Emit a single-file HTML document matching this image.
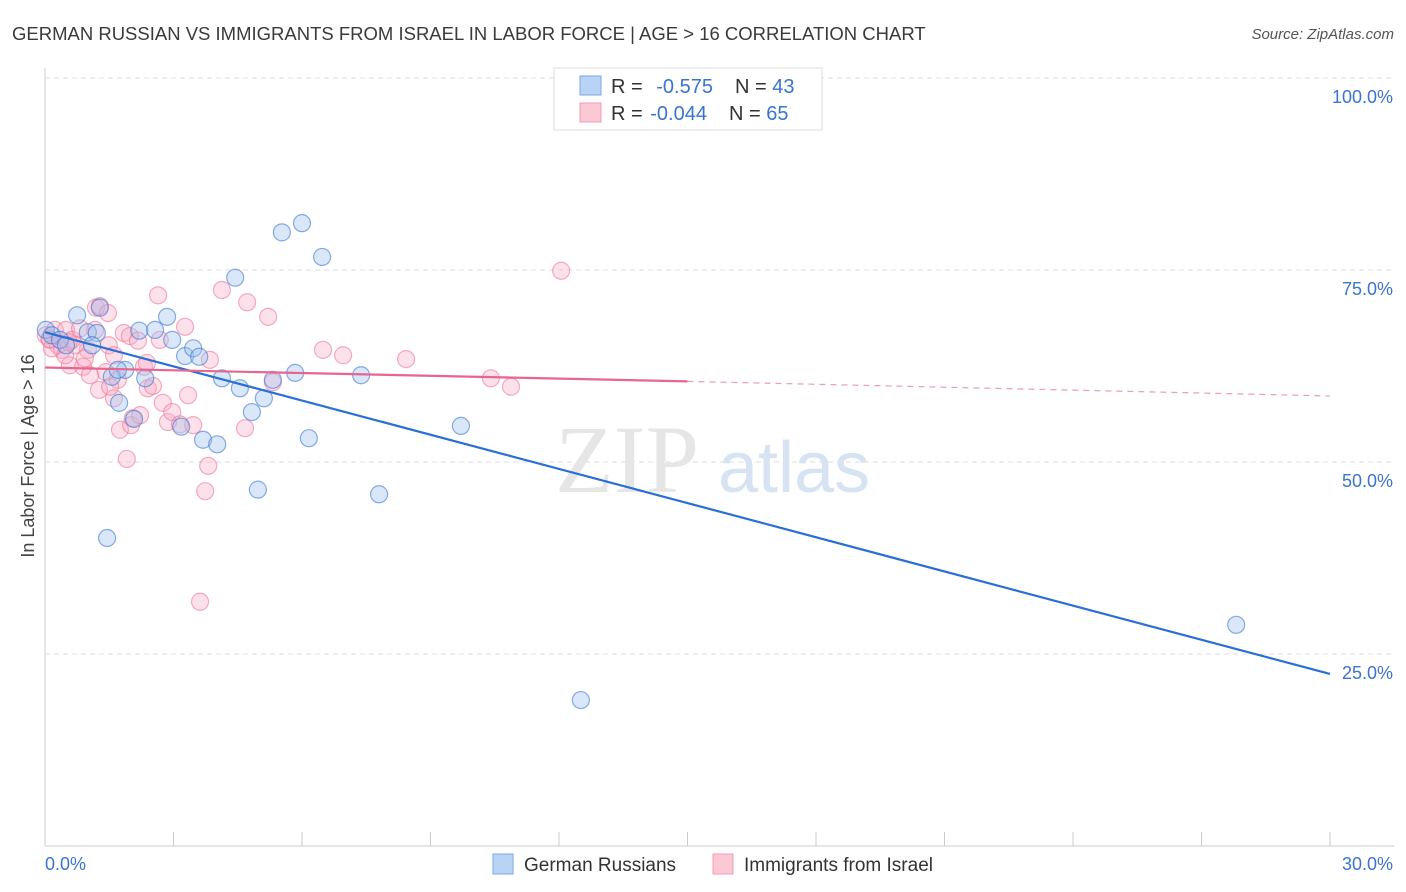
<!DOCTYPE html>
<html><head><meta charset="utf-8"><style>
body{margin:0;background:#fff;font-family:"Liberation Sans",sans-serif;}
svg{display:block}
</style></head><body>
<svg id="chart" width="1406" height="892">
<text x="12" y="40" font-size="18.5" fill="#3a3a3a">GERMAN RUSSIAN VS IMMIGRANTS FROM ISRAEL IN LABOR FORCE | AGE &gt; 16 CORRELATION CHART</text>
<text x="1394" y="39" font-size="15" fill="#555" font-style="italic" text-anchor="end">Source: ZipAtlas.com</text>
<text x="34" y="456" font-size="18" fill="#444" text-anchor="middle" transform="rotate(-90 34 456)">In Labor Force | Age &gt; 16</text>
<g id="grid"></g>
<g><text x="555" y="492" font-size="96" fill="#e6e6e6" font-family="Liberation Serif,serif">ZIP</text><text x="718" y="492" font-size="72" fill="#d6e3f3">atlas</text></g>
<g id="marks"></g>
<g id="lines"></g>
<g>
<rect x="554" y="68" width="268" height="62" fill="#fff" stroke="#ddd"/>
<rect x="580" y="76" width="21" height="19" fill="#b9d3f5" stroke="#7aa8e8"/>
<rect x="580" y="103" width="21" height="19" fill="#fbc8d6" stroke="#f09ab2"/>
<text x="611" y="93" font-size="20" fill="#333">R = <tspan fill="#3a74d0" dx="8">-0.575</tspan><tspan fill="#333" dx="22">N = </tspan><tspan fill="#3a74d0">43</tspan></text>
<text x="611" y="120" font-size="20" fill="#333">R = <tspan fill="#3a74d0" dx="2">-0.044</tspan><tspan fill="#333" dx="22">N = </tspan><tspan fill="#3a74d0">65</tspan></text>
</g>
<g>
<rect x="493" y="854" width="20" height="20" fill="#b9d3f5" stroke="#7aa8e8"/>
<text x="524" y="871" font-size="19" fill="#333">German Russians</text>
<rect x="713" y="854" width="20" height="20" fill="#fbc8d6" stroke="#f09ab2"/>
<text x="744" y="871" font-size="19" fill="#333">Immigrants from Israel</text>
</g>
</svg>
<script>
const yTicks=[25,50,75,100];
const yTickLabels=["25.0%","50.0%","75.0%","100.0%"];
const xTickLabels=["0.0%","30.0%"];
const blueX=[0.02,0.16,0.35,0.75,1.00,1.21,1.28,1.87,1.56,1.73,2.08,2.20,2.34,2.57,2.85,2.97,3.27,3.46,3.60,3.18,3.69,4.02,4.13,4.44,4.55,4.83,5.11,4.97,5.32,5.53,5.84,6.00,6.16,6.47,7.38,7.80,9.71,27.81,12.51,1.45,0.49,1.10,1.70];
const blueY=[67.2,66.5,65.9,69.1,66.9,66.8,70.1,62.0,61.1,57.7,55.6,67.1,60.9,67.2,68.9,65.9,63.8,64.8,63.7,54.6,52.9,52.3,60.9,74.0,59.6,56.5,58.3,46.4,60.7,79.9,61.6,81.1,53.1,76.7,61.3,45.8,54.7,28.8,19.0,40.1,65.2,65.2,62.0];
const pinkX=[0.02,0.12,0.23,0.30,0.40,0.49,0.58,0.63,0.82,0.89,1.00,1.05,1.17,1.19,1.28,1.26,1.42,1.47,1.49,1.61,1.61,1.70,1.75,1.84,1.91,1.98,2.01,2.05,2.17,2.31,2.38,2.40,2.52,2.64,2.68,2.75,2.87,2.97,3.15,3.27,3.34,3.46,3.62,3.74,3.81,3.85,4.13,4.67,4.72,5.21,5.32,6.49,6.96,8.43,10.41,10.88,12.05,0.47,0.70,0.93,1.52,2.22,0.16,0.10,0.55];
const pinkY=[66.5,65.9,67.2,65.2,64.6,67.2,62.6,65.9,67.4,62.4,64.6,61.3,67.2,70.1,70.3,59.4,61.7,69.4,65.2,63.9,58.3,60.7,54.2,66.8,50.4,66.4,54.8,55.7,65.8,62.4,62.9,59.6,59.9,71.7,65.9,57.7,55.2,56.5,54.9,67.6,58.7,54.8,31.8,46.2,49.5,63.3,72.4,54.4,70.8,68.9,60.4,64.6,63.9,63.4,60.9,59.8,74.9,63.9,65.2,63.5,59.8,56.1,64.8,66.0,65.6];
const blueTrend=[[0,66.9],[30,22.4]];
const pinkTrend=[[0,62.3],[15,60.5],[30,58.6]];
const X=v=>45+v/30*1285, Y=v=>846-v*7.68;
const NS="http://www.w3.org/2000/svg";
function mk(p,t,a){const e=document.createElementNS(NS,t);for(const k in a)e.setAttribute(k,a[k]);p.appendChild(e);return e;}
const grid=document.getElementById('grid');
let e=mk(grid,'line',{x1:45,y1:68,x2:45,y2:846,stroke:'#ccc'});


e=mk(grid,'line',{x1:45,y1:846,x2:1394,y2:846,stroke:'#ccc'});


for(let i=0;i<=10;i++){e=mk(grid,'line',{x1:X(i*3),y1:832,x2:X(i*3),y2:846,stroke:'#ccc'});

}
yTicks.forEach((t,i)=>{e=mk(grid,'line',{x1:45,y1:Y(t),x2:1394,y2:Y(t),stroke:'#ddd','stroke-dasharray':'5,4'});


e=mk(grid,'text',{x:1393,y:Y(t)+25,'font-size':18,fill:'#3a74d0','text-anchor':'end'});e.textContent=yTickLabels[i];

});
e=mk(grid,'text',{x:45,y:870,'font-size':18,fill:'#3a74d0'});e.textContent=xTickLabels[0];


e=mk(grid,'text',{x:1393,y:870,'font-size':18,fill:'#3a74d0','text-anchor':'end'});e.textContent=xTickLabels[1];


const marks=document.getElementById('marks');
pinkX.forEach((x,i)=>{e=mk(marks,'circle',{cx:X(x),cy:Y(pinkY[i]),r:8.5,fill:'rgba(248,170,195,0.35)',stroke:'rgba(236,120,155,0.6)','stroke-width':1.2});

});
blueX.forEach((x,i)=>{e=mk(marks,'circle',{cx:X(x),cy:Y(blueY[i]),r:8.5,fill:'rgba(160,195,240,0.4)',stroke:'rgba(60,120,210,0.6)','stroke-width':1.2});

});
const lines=document.getElementById('lines');
e=mk(lines,'line',{x1:X(blueTrend[0][0]),y1:Y(blueTrend[0][1]),x2:X(blueTrend[1][0]),y2:Y(blueTrend[1][1]),stroke:'#2a6fd6','stroke-width':2.2});


e=mk(lines,'line',{x1:X(pinkTrend[0][0]),y1:Y(pinkTrend[0][1]),x2:X(pinkTrend[1][0]),y2:Y(pinkTrend[1][1]),stroke:'#e8658f','stroke-width':2.2});


e=mk(lines,'line',{x1:X(pinkTrend[1][0]),y1:Y(pinkTrend[1][1]),x2:X(pinkTrend[2][0]),y2:Y(pinkTrend[2][1]),stroke:'#e8a0b8','stroke-width':1.2,'stroke-dasharray':'6,5'});


</script>
</body></html>
